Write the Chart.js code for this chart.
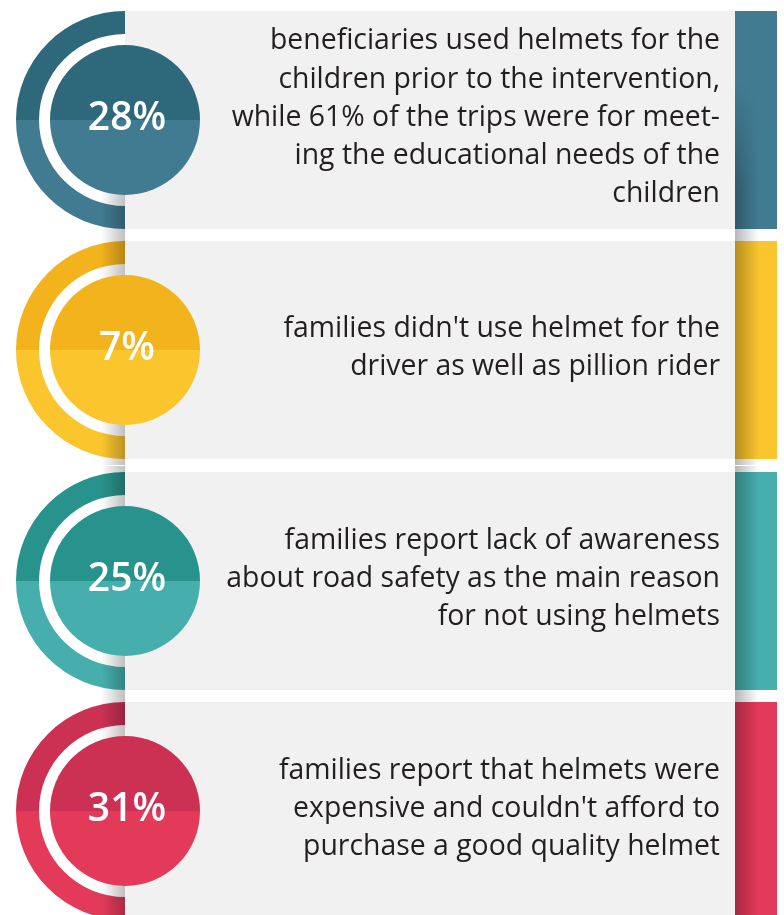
<!DOCTYPE html>
<html>
<head>
<meta charset="utf-8">
<title>Helmet use</title>
<script src="https://cdn.jsdelivr.net/npm/chart.js@4.4.1/dist/chart.umd.min.js"></script>
<style>
  html, body { margin: 0; padding: 0; background: #fff; }
  body { width: 784px; height: 915px; overflow: hidden; position: relative; font-family: "Open Sans", sans-serif; }
  .row { position: absolute; left: 0; width: 784px; }
  .row canvas { display: block; }
  .desc { position: absolute; right: 64px; text-align: right; font-size: 28.4px; line-height: 38.3px; color: #231f20; white-space: nowrap; }
</style>
</head>
<body>
<script>
/* ---- data ---- */
const PERCENTS = [28, 7, 25, 31];
const DESCRIPTIONS = [
  ["beneficiaries used helmets for the", "children prior to the intervention,", "while 61% of the trips were for meet-", "ing the educational needs of the", "children"],
  ["families didn't use helmet for the", "driver as well as pillion rider"],
  ["families report lack of awareness", "about road safety as the main reason", "for not using helmets"],
  ["families report that helmets were", "expensive and couldn't afford to", "purchase a good quality helmet"],
];
const DARK_SHADES = ["#2e687b", "#f2b31c", "#28938c", "#cc3154"];
const LIGHT_SHADES = ["#417b92", "#fbc52d", "#46afae", "#e33a5a"];
const HALVES = [1, 1]; // every ring and disc is split in a lower and an upper half

/* ---- layout ---- */
const ROW_CENTERS = [120, 350, 581, 811];
const CANVAS_W = 784;
const CANVAS_H = 230;
const PANEL_RIGHT = 735;
const STRIP_RIGHT = 777;
const LINE_H = 38.3;

// shadow strength at canvas row y; the first row fades in from its middle
function shadowAlpha(row, y, cy) {
  if (row !== 0) return 1;
  return Math.max(0, Math.min(1, (y - (cy - 40)) / 110));
}

function drawShadows(ctx, row, cx, cy, height) {
  for (let y = 0; y < height; y += 2) {
    const a = shadowAlpha(row, y, cy);
    if (a <= 0) continue;
    let g = ctx.createLinearGradient(cx - 24, 0, cx, 0);
    g.addColorStop(0, "rgba(0,0,0,0)");
    g.addColorStop(1, `rgba(0,0,0,${0.25 * a})`);
    ctx.fillStyle = g;
    ctx.fillRect(cx - 24, y, 24, 2);
    g = ctx.createLinearGradient(PANEL_RIGHT, 0, PANEL_RIGHT + 24, 0);
    g.addColorStop(0, `rgba(0,0,0,${0.28 * a})`);
    g.addColorStop(1, "rgba(0,0,0,0)");
    ctx.fillStyle = g;
    ctx.fillRect(PANEL_RIGHT, y, 24, 2);
  }
}

const panelPlugin = {
  id: "panel",
  beforeDatasetsDraw(chart, args, opts) {
    const { ctx, chartArea } = chart;
    const cx = chart.getDatasetMeta(0).data[0].x;
    ctx.save();
    ctx.fillStyle = "#f1f1f1";
    ctx.fillRect(cx, chartArea.top, PANEL_RIGHT - cx, chartArea.height);
    ctx.fillStyle = LIGHT_SHADES[opts.row];
    ctx.fillRect(PANEL_RIGHT, chartArea.top, STRIP_RIGHT - PANEL_RIGHT, chartArea.height);
    ctx.restore();
  },
  afterDatasetsDraw(chart, args, opts) {
    const { ctx, height, width } = chart;
    const disc = chart.getDatasetMeta(2).data[0];
    const cx = disc.x, cy = disc.y, r = disc.outerRadius;

    // soft shadow along the panel edges, kept off the inner disc
    ctx.save();
    ctx.beginPath();
    ctx.rect(0, 0, width, height);
    ctx.arc(cx, cy, r, 0, Math.PI * 2);
    ctx.clip("evenodd");
    drawShadows(ctx, opts.row, cx, cy, height);
    ctx.restore();

    ctx.save();
    ctx.fillStyle = "#fff";
    ctx.font = "600 39px 'Open Sans'";
    ctx.textAlign = "center";
    ctx.textBaseline = "middle";
    ctx.fillText(PERCENTS[opts.row] + "%", cx + 2, cy - 1);
    ctx.restore();
  },
};

function buildRow(i) {
  const row = document.createElement("div");
  row.className = "row";
  row.style.top = (ROW_CENTERS[i] - CANVAS_H / 2) + "px";
  const canvas = document.createElement("canvas");
  canvas.width = CANVAS_W;
  canvas.height = CANVAS_H;
  row.appendChild(canvas);
  document.body.appendChild(row);

  const halfColors = [LIGHT_SHADES[i], DARK_SHADES[i]];
  new Chart(canvas, {
    type: "doughnut",
    data: {
      labels: ["lower half", "upper half"],
      datasets: [
        { data: HALVES, backgroundColor: halfColors, rotation: 180, circumference: 180, weight: 23, borderWidth: 0 },
        { data: [1], backgroundColor: "rgba(0,0,0,0)", rotation: 90, weight: 11, borderWidth: 0 },
        { data: HALVES, backgroundColor: halfColors, rotation: 90, weight: 75, borderWidth: 0 },
      ],
    },
    options: {
      responsive: false,
      animation: false,
      events: [],
      cutout: 0,
      layout: { padding: { left: 16, right: 550, top: 6, bottom: 6 } },
      plugins: { legend: { display: false }, tooltip: { enabled: false }, panel: { row: i } },
    },
    plugins: [panelPlugin],
  });
}

function buildDescription(i) {
  const lines = DESCRIPTIONS[i];
  const div = document.createElement("div");
  div.className = "desc";
  div.style.top = (ROW_CENTERS[i] - lines.length * LINE_H / 2 - 5) + "px";
  div.innerHTML = lines.join("<br>");
  document.body.appendChild(div);
}

PERCENTS.forEach((_, i) => buildRow(i));
PERCENTS.forEach((_, i) => buildDescription(i));
</script>
</body>
</html>
